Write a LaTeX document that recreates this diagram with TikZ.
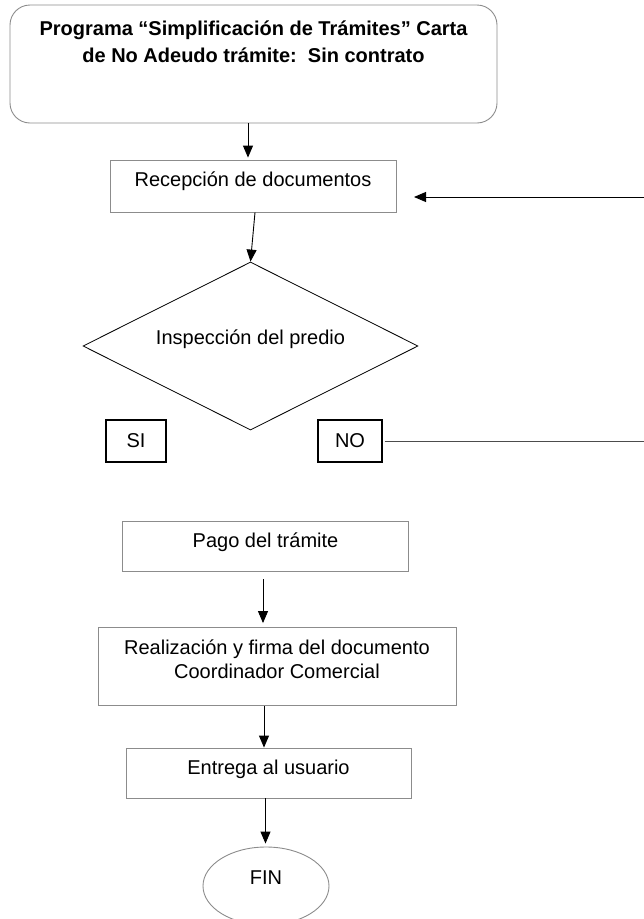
\documentclass[tikz,border=0pt]{standalone}
\usepackage{fontspec}
\setmainfont{Liberation Sans}
\usetikzlibrary{arrows.meta,shapes.geometric,calc}
\begin{document}
\begin{tikzpicture}[x=1pt,y=-1pt,
  font=\fontsize{20}{25}\selectfont,
  graybox/.style={draw=black!45, line width=0.9pt, rectangle, inner sep=0pt},
  blackbox/.style={draw=black, line width=1.1pt, rectangle, inner sep=0pt},
  arr/.style={draw=black, line width=0.9pt, -{Triangle[length=12pt,width=10pt]}},
  plain/.style={draw=black!70, line width=0.9pt}]
\useasboundingbox (0,0) rectangle (644,919);
\begin{scope}
\clip (0,0) rectangle (644,919);
% title
\node[graybox, rounded corners=20pt, minimum width=487pt, minimum height=118pt] (title) at (253.5,64) {};
\node[font=\fontsize{20}{26}\selectfont\bfseries, align=center, anchor=north, inner sep=0pt] (titletext) at (253.5,21)
  {Programa “Simplificación de Trámites” Carta\\[1pt]de No Adeudo trámite:\ \ Sin contrato};
% recepcion
\node[graybox, minimum width=286pt, minimum height=52pt,
  label={[yshift=5pt]center:Recepción de documentos}] (recep) at (253,186) {};
% diamond
\node[diamond, draw=black, line width=0.8pt, inner sep=0pt, aspect=2,
  minimum width=335pt, minimum height=168pt,
  label={[yshift=7pt]center:Inspección del predio}] (dia) at (250.5,346) {};
% SI / NO
\node[blackbox, minimum width=60pt, minimum height=42pt] (si) at (136,441) {SI};
\node[blackbox, minimum width=64pt, minimum height=42pt] (no) at (350,441) {NO};
% pago
\node[graybox, minimum width=286pt, minimum height=50pt,
  label={[yshift=4pt]center:Pago del trámite}] (pago) at (265.5,546) {};
% realizacion
\node[graybox, minimum width=358pt, minimum height=78pt,
  label={[yshift=7pt, align=center, font=\fontsize{20}{24}\selectfont]center:Realización y firma del documento\\Coordinador Comercial}] (real) at (277,666.5) {};
% entrega
\node[graybox, minimum width=285pt, minimum height=50pt,
  label={[yshift=4pt]center:Entrega al usuario}] (entrega) at (268.5,773) {};
% fin
\node[ellipse, draw=black!45, line width=0.9pt, minimum width=126pt, minimum height=78pt,
  label={[yshift=8pt]center:FIN}] (fin) at (266,886) {};
% coordinates at the page edge
\coordinate (retstart) at (644,197);
\coordinate (rettip) at (414,197);
\coordinate (noend) at (644,441);
% connectors
\draw[arr] ([xshift=-5.5pt]title.south) -- ([xshift=-5pt,yshift=2pt]recep.north);
\draw[arr] ([xshift=2pt]recep.south) -- (dia.north);
\draw[arr] (retstart) -- (rettip);
\draw[plain] ([xshift=2pt]no.east) -- (noend);
\draw[arr] ([xshift=-2.5pt,yshift=-8pt]pago.south) -- ([xshift=-14pt,yshift=4pt]real.north);
\draw[arr] ([xshift=-13pt]real.south) -- ([xshift=-4.5pt]entrega.north);
\draw[arr] ([xshift=-3pt]entrega.south) -- ([xshift=-0.5pt,yshift=3pt]fin.north);
\end{scope}
\end{tikzpicture}
\end{document}
